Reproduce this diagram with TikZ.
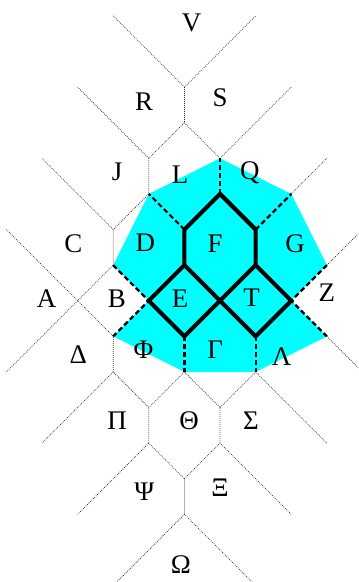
\documentclass[tikz,border=0pt]{standalone}
\usepackage{fontspec}
\setmainfont{Liberation Serif}
\definecolor{regioncyan}{RGB}{0,255,255}

\begin{document}
\begin{tikzpicture}[
    celledge/.style={densely dotted, black!85, line width=0.6pt},
    cutedge/.style={line width=1.8pt, dash pattern=on 4pt off 2.4pt},
    tileedge/.style={line width=3.3pt, line join=miter},
    celllabel/.style={font=\fontsize{21.5}{24}\selectfont, inner sep=0pt}
]
    \clip (-6.18,-7.90) rectangle (3.876,8.447);
    % 対象領域
    \fill[regioncyan] (0,4) -- (2,3) -- (3,1) -- (2,0) -- (3,-1) -- (1,-2)
        -- (-1,-2) -- (-3,-1) -- (-2,0) -- (-3,1) -- (-2,3) -- cycle;
    % 上下で共通の点線
    \foreach \s in {1,-1} {
        \draw[celledge] (-3,8*\s) -- (-1,6*\s) -- (1,8*\s);
        \draw[celledge] (-1,6*\s) -- (-1,5*\s) -- (-2,4*\s) -- (-4,6*\s);
        \draw[celledge] (-1,5*\s) -- (0,4*\s) -- (2,6*\s);
        \draw[celledge] (-2,4*\s) -- (-2,3*\s) -- (-3,2*\s) -- (-5,4*\s);
        \draw[celledge] (-3,2*\s) -- (-3,1*\s) -- (-4,0) -- (-6,2*\s);
        \draw[celledge] (3,1*\s) -- (4,2*\s);
    }
    \draw[celledge] (2,3) -- (3,4);
    \draw[celledge] (0,-4) -- (0,-3) -- (-1,-2) -- (-2,-3);
    \draw[celledge] (0,-3) -- (1,-2) -- (3,-4);
    % 破線
    \draw[cutedge] (0,3) -- (0,4);
    \draw[cutedge] (-1,2) -- (-2,3);
    \draw[cutedge] (1,2) -- (2,3);
    \draw[cutedge] (-3,1) -- (-2,0) -- (-3,-1);
    \draw[cutedge] (3,1) -- (2,0) -- (3,-1);
    \draw[cutedge] (-1,-1) -- (-1,-2);
    \draw[cutedge] (1,-1) -- (1,-2);
    % 太線
    \draw[tileedge] (-2,0) -- (-1,1) -- (-1,2) -- (0,3) -- (1,2) -- (1,1)
        -- (2,0) -- (1,-1) -- (0,0) -- (-1,-1) -- cycle;
    \draw[tileedge] (-1,1) -- (0,0) -- (1,1);
    % ラベル
    \foreach \name/\x/\y/\txt in {
        V/-0.8/7.8/V, R/-2.13/5.58/R, S/0/5.69/S,
        J/-2.89/3.61/J, L/-1.12/3.53/L, Q/0.84/3.59/Q,
        C/-4.12/1.61/C, D/-2.1/1.64/D, F/-0.14/1.6/F, G/2.11/1.6/G,
        A/-4.87/0.07/A, B/-2.9/0.07/B, E/-1.12/0.05/E, T/0.89/0.08/T, Z/3.0/0.23/Z,
        delta/-3.98/-1.52/Δ, phi/-2.15/-1.37/Φ, gamma/-0.14/-1.38/Γ, lambda/1.73/-1.57/Λ,
        pi/-2.89/-3.38/Π, theta/-0.87/-3.38/Θ, sigma/0.87/-3.38/Σ,
        psi/-2.13/-5.35/Ψ, xi/0/-5.26/Ξ, omega/-1.1/-7.42/Ω} {
        \node[celllabel] (\name) at (\x,\y) {\txt};
    }
\end{tikzpicture}
\end{document}
